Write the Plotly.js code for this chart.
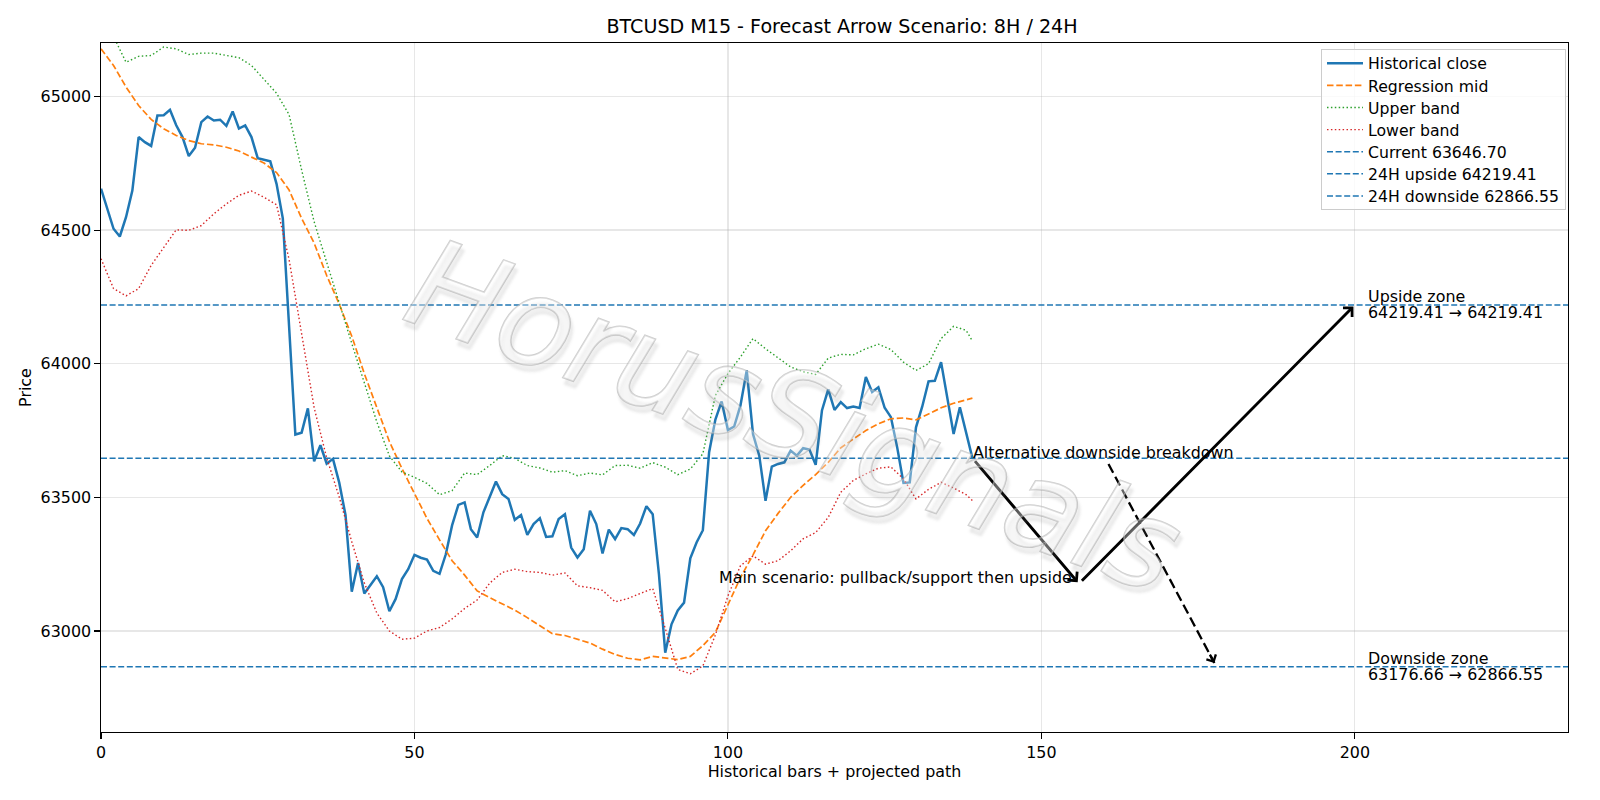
<!DOCTYPE html>
<html>
<head>
<meta charset="utf-8">
<script src="https://cdn.plot.ly/plotly-3.0.1.min.js"></script>
<style>
  html, body { margin: 0; padding: 0; background: #ffffff; }
  #chart { width: 1600px; height: 800px; }
</style>
</head>
<body>
<div id="chart"></div>
<script>
// ---- BTCUSD M15 closes (bar index 0..139) ----
const closePrices = [
  64655, 64580, 64505, 64476, 64549, 64648, 64848, 64829, 64815, 64929,
  64930, 64950, 64892, 64848, 64777, 64808, 64904, 64925, 64910, 64913,
  64890, 64944, 64880, 64892, 64848, 64769, 64763, 64757, 64673, 64544,
  64140, 63735, 63742, 63833, 63635, 63695, 63626, 63644, 63555, 63434,
  63147, 63254, 63140, 63174, 63205, 63164, 63074, 63120, 63194, 63231,
  63285, 63274, 63267, 63225, 63214, 63287, 63395, 63472, 63481, 63381,
  63350, 63444, 63500, 63559, 63512, 63494, 63416, 63434, 63360, 63400,
  63422, 63352, 63354, 63419, 63437, 63312, 63275, 63306, 63450, 63400,
  63290, 63379, 63344, 63385, 63381, 63359, 63402, 63467, 63437, 63212,
  62919, 63025, 63077, 63106, 63272, 63331, 63377, 63669, 63791, 63859,
  63752, 63765, 63844, 63975, 63737, 63656, 63487, 63615, 63625, 63631,
  63675, 63656, 63684, 63679, 63622, 63825, 63904, 63827, 63856, 63834,
  63840, 63834, 63950, 63894, 63912, 63835, 63800, 63687, 63554, 63556,
  63762, 63840, 63934, 63936, 64006, 63875, 63737, 63837, 63744, 63646.70
];
const closeBars = closePrices.map((_, i) => i);

// ---- regression channel, sampled on these bars ----
const bandBars = [
  0, 2, 4, 6, 8, 10, 12, 14, 16, 18, 20, 22, 24, 26, 28, 30, 32, 34, 36, 38,
  40, 42, 44, 46, 48, 50, 52, 54, 56, 58, 60, 62, 64, 66, 68, 70, 72, 74, 76, 78,
  80, 82, 84, 86, 88, 90, 92, 94, 96, 98, 100, 102, 104, 106, 108, 110, 112, 114, 116, 118,
  120, 122, 124, 126, 128, 130, 132, 134, 136, 138, 139
];
const regressionMid = [
  65178, 65116, 65035, 64966, 64914, 64879, 64854, 64835, 64823, 64819,
  64810, 64796, 64773, 64751, 64715, 64650, 64544, 64451, 64330, 64223,
  64103, 63963, 63836, 63709, 63608, 63515, 63421, 63341, 63263, 63209,
  63150, 63125, 63103, 63078, 63050, 63019, 62990, 62983, 62970, 62955,
  62932, 62912, 62898, 62892, 62905, 62900, 62893, 62905, 62945, 62995,
  63095, 63200, 63285, 63375, 63440, 63500, 63545, 63585, 63631, 63685,
  63718, 63750, 63775, 63794, 63797, 63790, 63812, 63835, 63852, 63866, 63871
];
const upperBand = [
  65320, 65225, 65128, 65150, 65153, 65185, 65178, 65157, 65162, 65162,
  65153, 65145, 65116, 65066, 65012, 64932, 64725, 64531, 64377, 64230,
  64076, 63929, 63782, 63655, 63595, 63575, 63552, 63510, 63525, 63591,
  63585, 63619, 63656, 63646, 63619, 63610, 63594, 63600, 63581, 63591,
  63584, 63619, 63620, 63609, 63630, 63613, 63585, 63606, 63663, 63881,
  63963, 64025, 64094, 64056, 64023, 63988, 63970, 63960, 64021, 64035,
  64033, 64056, 64073, 64053, 64006, 63975, 64000, 64094, 64140, 64125, 64085
];
const lowerBand = [
  64393, 64281, 64254, 64281, 64368, 64436, 64501, 64499, 64517, 64561,
  64598, 64630, 64646, 64623, 64595, 64390, 64110, 63835, 63648, 63501,
  63334, 63180, 63067, 63000, 62969, 62973, 63000, 63013, 63045, 63084,
  63116, 63179, 63219, 63231, 63222, 63219, 63209, 63217, 63169, 63162,
  63152, 63109, 63121, 63140, 63159, 63010, 62856, 62840, 62869, 62985,
  63131, 63244, 63281, 63250, 63263, 63300, 63345, 63368, 63425, 63519,
  63563, 63588, 63609, 63614, 63569, 63494, 63530, 63556, 63535, 63510, 63488
];

// ---- reference levels ----
const levelNames = ["Current 63646.70", "24H upside 64219.41", "24H downside 62866.55"];
const levelValues = [63646.70, 64219.41, 62866.55];

// ---- projected scenario paths ----
const mainPathBars = [139, 156, 200];
const mainPathPrices = [63646.70, 63176.66, 64219.41];
const altPathBars = [160.7, 177.6];
const altPathPrices = [63625, 62880];

// ---- zone labels (title line, range line) ----
const zoneBars = [202, 202];
const zonePrices = [64219.41, 62866.55];
const zoneTitles = ["Upside zone", "Downside zone"];
const zoneRanges = ["64219.41 → 64219.41", "63176.66 → 62866.55"];

const xRange = [0, 234];
const yRange = [62622, 65200];
const xTicks = [0, 50, 100, 150, 200];
const yTicks = [63000, 63500, 64000, 64500, 65000];

const FONT = "DejaVu Sans, Liberation Sans, sans-serif";
const TXT = 15.9;
const BLUE = "#1f77b4";

const traces = [
  { x: closeBars, y: closePrices, type: "scatter", mode: "lines", name: "Historical close",
    line: { color: BLUE, width: 2.5 } },
  { x: bandBars, y: regressionMid, type: "scatter", mode: "lines", name: "Regression mid",
    line: { color: "#ff7f0e", width: 1.7, dash: "6.5px,2.8px" } },
  { x: bandBars, y: upperBand, type: "scatter", mode: "lines", name: "Upper band",
    line: { color: "#2ca02c", width: 1.4, dash: "1.5px,2.4px" } },
  { x: bandBars, y: lowerBand, type: "scatter", mode: "lines", name: "Lower band",
    line: { color: "#d62728", width: 1.4, dash: "1.5px,2.4px" } }
];
levelValues.forEach((v, k) => {
  traces.push({ x: xRange, y: [v, v], type: "scatter", mode: "lines", name: levelNames[k],
    line: { color: BLUE, width: 1.5, dash: "6px,2.6px" } });
});
// dashed shaft of the alternative path
traces.push({ x: altPathBars, y: altPathPrices, type: "scatter", mode: "lines", showlegend: false,
  hoverinfo: "skip", line: { color: "#000000", width: 2.3, dash: "10px,4.5px" } });

const annotations = [];
// main scenario arrows
for (let k = 0; k < mainPathBars.length - 1; k++) {
  annotations.push({
    x: mainPathBars[k + 1], y: mainPathPrices[k + 1],
    ax: mainPathBars[k], ay: mainPathPrices[k],
    xref: "x", yref: "y", axref: "x", ayref: "y",
    text: "", showarrow: true, arrowhead: 4, arrowsize: 0.85, arrowwidth: 2.9,
    arrowcolor: "#000000", standoff: 2, startstandoff: 2
  });
}
// head of the alternative path
{
  const n = altPathBars.length - 1;
  const tailX = altPathBars[n] - 0.05 * (altPathBars[n] - altPathBars[n - 1]);
  const tailY = altPathPrices[n] - 0.05 * (altPathPrices[n] - altPathPrices[n - 1]);
  annotations.push({
    x: altPathBars[n], y: altPathPrices[n], ax: tailX, ay: tailY,
    xref: "x", yref: "y", axref: "x", ayref: "y",
    text: "", showarrow: true, arrowhead: 4, arrowsize: 0.9, arrowwidth: 2.3,
    arrowcolor: "#000000"
  });
}
// scenario captions (baseline at the level)
annotations.push({
  x: mainPathBars[0], y: mainPathPrices[0], xref: "x", yref: "y",
  text: "Alternative downside breakdown", showarrow: false,
  xanchor: "left", yanchor: "bottom", yshift: -4.5, borderpad: 0,
  font: { family: FONT, size: TXT, color: "#000000" }
});
annotations.push({
  x: mainPathBars[1] - 1, y: mainPathPrices[1], xref: "x", yref: "y",
  text: "Main scenario: pullback/support then upside", showarrow: false,
  xanchor: "right", yanchor: "bottom", yshift: -4.5, borderpad: 0,
  font: { family: FONT, size: TXT, color: "#000000" }
});
// zone labels: two lines centred on the level
zoneTitles.forEach((t, k) => {
  [[t, 8.5], [zoneRanges[k], -7.8]].forEach(([line, shift]) => {
    annotations.push({
      x: zoneBars[k], y: zonePrices[k], xref: "x", yref: "y",
      text: line, showarrow: false, xanchor: "left", yanchor: "middle", align: "left",
      borderpad: 0, yshift: shift,
      font: { family: FONT, size: TXT, color: "#000000" }
    });
  });
});
// watermark
const WATERMARK = "HorusSignals";
annotations.push({
  x: 0.4724, y: 0.458, xref: "paper", yref: "paper",
  text: WATERMARK, showarrow: false, textangle: 20,
  xanchor: "center", yanchor: "middle",
  font: { family: "DejaVu Sans", size: 124, style: "italic", color: "rgba(255,255,255,0.35)" }
});

const layout = {
  width: 1600, height: 800, autosize: false,
  paper_bgcolor: "#ffffff", plot_bgcolor: "#ffffff",
  margin: { l: 101, r: 32, t: 43, b: 68, pad: 0 },
  font: { family: FONT, size: TXT, color: "#000000" },
  title: {
    text: "BTCUSD M15 - Forecast Arrow Scenario: 8H / 24H",
    font: { family: FONT, size: 19.1, color: "#000000" },
    x: 842 / 1600, xref: "container", xanchor: "center",
    y: 1 - 26.5 / 800, yref: "container", yanchor: "middle"
  },
  xaxis: {
    range: xRange, tickvals: xTicks, tickformat: "d",
    ticks: "outside", ticklen: 5.5, tickwidth: 1.1, tickcolor: "#000000",
    showline: true, linecolor: "#000000", linewidth: 1.2, mirror: true,
    showgrid: true, gridcolor: "rgba(176,176,176,0.3)", gridwidth: 1.2, zeroline: false,
    tickfont: { family: FONT, size: TXT, color: "#000000" },
    title: { text: "Historical bars + projected path", font: { family: FONT, size: TXT, color: "#000000" }, standoff: 4 }
  },
  yaxis: {
    range: yRange, tickvals: yTicks, tickformat: "d",
    ticks: "outside", ticklen: 5.5, tickwidth: 1.1, tickcolor: "#000000",
    showline: true, linecolor: "#000000", linewidth: 1.2, mirror: true,
    showgrid: true, gridcolor: "rgba(176,176,176,0.3)", gridwidth: 1.2, zeroline: false,
    tickfont: { family: FONT, size: TXT, color: "#000000" },
    title: { text: "Price", font: { family: FONT, size: TXT, color: "#000000" }, standoff: 5 }
  },
  legend: {
    x: (1566 - 101) / 1467, y: 1 - 6 / 689, xanchor: "right", yanchor: "top",
    bgcolor: "rgba(255,255,255,0.8)", bordercolor: "#cccccc", borderwidth: 1,
    itemwidth: 36,
    font: { family: FONT, size: 15.7, color: "#000000" }
  },
  showlegend: true,
  annotations: annotations
};

Plotly.newPlot("chart", traces, layout, { displayModeBar: false, staticPlot: true }).then(gd => {
  // outlined, lightly shadowed lettering for the watermark
  gd.querySelectorAll(".annotation-text").forEach(node => {
    if (node.textContent === WATERMARK) {
      node.style.stroke = "rgba(165,165,165,0.55)";
      node.style.strokeWidth = "1.6px";
      node.style.paintOrder = "stroke";
      node.style.textShadow = "4px 5px 3px rgba(130,130,130,0.33)";
    }
  });
  // tighter legend rows
  const leg = gd.querySelector(".legend");
  if (!leg) return;
  const items = Array.from(leg.querySelectorAll(".traces"));
  const re = /translate\(\s*([-\d.eE]+)[ ,]+([-\d.eE]+)\s*\)/;
  const pos = items.map(el => re.exec(el.getAttribute("transform") || ""));
  if (items.length && pos.every(Boolean)) {
    const ROW = 22.1;
    const y0 = parseFloat(pos[0][2]) - 3.4;
    items.forEach((el, i) => {
      el.setAttribute("transform", "translate(" + parseFloat(pos[i][1]) + "," + (y0 + i * ROW) + ")");
    });
    const bg = leg.querySelector("rect.bg");
    if (bg) {
      const top = parseFloat(bg.getAttribute("y") || "0");
      bg.setAttribute("height", (y0 + (items.length - 1) * ROW + 14 - top).toFixed(1));
    }
  }
});
</script>
</body>
</html>
